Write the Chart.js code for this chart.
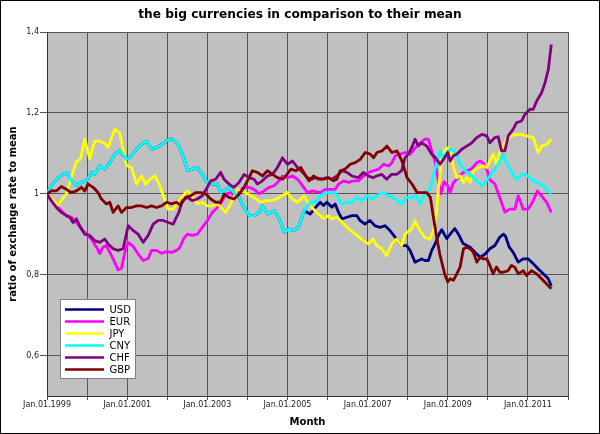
<!DOCTYPE html>
<html><head><meta charset="utf-8">
<script src="https://cdn.jsdelivr.net/npm/chart.js@4/dist/chart.umd.min.js"></script>
<style>html,body{margin:0;padding:0;background:#fff}#wrap{width:600px;height:434px}</style>
</head><body><div id="wrap"><canvas id="c" width="600" height="434"></canvas></div>
<script>
// x values are months since Jan.01.1999, y values are ratio of exchange rate to mean
const chartTitle = 'the big currencies in comparison to their mean';
const currencies = ['USD','EUR','JPY','CNY','CHF','GBP'];
const lineColors = ['#000080','#ff00ff','#ffff00','#00ffff','#800080','#800000'];
const yTickValues = [0.6, 0.8, 1.0, 1.2, 1.4];
const xLabelYears = [1999, 2001, 2003, 2005, 2007, 2009, 2011];

const CNY = [[0,1.0],[1.3,1.02],[3.3,1.04],[4.8,1.048],[6.1,1.053],[7.3,1.032],[8.8,1.02],[10.3,1.028],[11.8,1.032],[13.3,1.053],[14.3,1.048],[15.8,1.069],[17.3,1.061],[18.8,1.077],[20.3,1.098],[21.8,1.106],[23.8,1.085],[25.3,1.094],[26.8,1.11],[28.3,1.122],[29.8,1.13],[31.3,1.11],[32.8,1.114],[34.3,1.122],[35.8,1.131],[37.3,1.136],[38.8,1.126],[39.5,1.118],[41,1.089],[42,1.057],[43.5,1.061],[45,1.065],[46.5,1.048],[48,1.028],[49.5,1.024],[51,1.024],[52,1.003],[53,1.007],[54.5,1.016],[56,1.003],[57.5,0.991],[59,0.966],[60.5,0.946],[62,0.946],[63.5,0.954],[64.5,0.97],[66,0.95],[68,0.958],[69.5,0.938],[71,0.905],[72.5,0.913],[74,0.909],[75.5,0.921],[77,0.958],[78.8,0.979],[80.3,0.979],[81.8,0.995],[83.3,1.003],[84.8,1.003],[86.3,1.003],[87.3,0.987],[88.3,0.975],[89.8,0.979],[91.3,0.979],[92.8,0.991],[94.3,0.983],[95.7,0.995],[97.2,0.987],[98.7,0.995],[100.7,1.003],[102.2,0.995],[103.7,0.991],[106.2,0.975],[107.7,0.991],[109.2,0.991],[110.7,0.995],[111.7,0.975],[113.2,1.003],[114.7,1.011],[116.1,1.057],[117.6,1.106],[118.5,1.09],[119.7,1.102],[120.7,1.11],[121.7,1.106],[122.7,1.1],[123.7,1.073],[125.2,1.057],[127.2,1.044],[128.7,1.032],[130.2,1.02],[131.2,1.028],[132.6,1.044],[134.1,1.06],[135.6,1.081],[136.6,1.098],[137.6,1.077],[139.1,1.053],[140.6,1.036],[142.1,1.048],[143.6,1.046],[145.1,1.036],[146.6,1.028],[148.1,1.024],[149.6,1.011],[151,1.0]];

const USD = [[0,1.0],[1.3,1.02],[3.3,1.04],[4.8,1.048],[6.1,1.053],[7.3,1.032],[8.8,1.02],[10.3,1.028],[11.8,1.032],[13.3,1.053],[14.3,1.048],[15.8,1.069],[17.3,1.061],[18.8,1.077],[20.3,1.098],[21.8,1.106],[23.8,1.085],[25.3,1.094],[26.8,1.11],[28.3,1.122],[29.8,1.13],[31.3,1.11],[32.8,1.114],[34.3,1.122],[35.8,1.131],[37.3,1.136],[38.8,1.126],[39.5,1.118],[41,1.089],[42,1.057],[43.5,1.061],[45,1.065],[46.5,1.048],[48,1.028],[49.5,1.024],[51,1.024],[52,1.003],[53,1.007],[54.5,1.016],[56,1.003],[57.5,0.991],[59,0.966],[60.5,0.946],[62,0.946],[63.5,0.954],[64.5,0.97],[66,0.95],[68,0.958],[69.5,0.938],[71,0.905],[72.5,0.913],[74,0.909],[75.5,0.921],[77,0.958],[78.8,0.95],[80.3,0.965],[81.8,0.979],[82.8,0.971],[83.8,0.979],[85.3,0.967],[86.3,0.975],[87.3,0.954],[88.3,0.938],[89.8,0.942],[91.3,0.946],[92.8,0.946],[93.7,0.934],[95.2,0.925],[96.7,0.934],[98.2,0.921],[99.7,0.917],[101.2,0.921],[102.7,0.909],[104.7,0.888],[106.2,0.872],[107.7,0.872],[108.7,0.86],[110.2,0.831],[111.2,0.835],[112.2,0.839],[113.2,0.835],[114.2,0.835],[115.2,0.86],[116.2,0.876],[117.2,0.897],[118.2,0.911],[119.7,0.889],[120.7,0.9],[122.1,0.914],[123.2,0.9],[124.6,0.877],[126.7,0.868],[128.2,0.855],[129.7,0.843],[131.2,0.851],[132.6,0.864],[134.1,0.872],[135.6,0.893],[136.7,0.9],[137.3,0.895],[138.4,0.868],[139.6,0.855],[141.1,0.831],[142.6,0.839],[144.1,0.839],[145.6,0.827],[147.1,0.814],[148.6,0.802],[150.1,0.79],[151,0.772]];

const EUR = [[0,1.0],[1.3,0.983],[2.8,0.97],[4.3,0.958],[5.8,0.946],[7.3,0.942],[8.8,0.929],[10.3,0.913],[11.8,0.9],[13.3,0.888],[14.8,0.868],[15.8,0.852],[16.8,0.868],[17.8,0.872],[18.8,0.855],[19.8,0.839],[21.3,0.812],[22.3,0.816],[23.3,0.855],[24.3,0.88],[25.8,0.87],[27.3,0.851],[28.8,0.835],[30.3,0.84],[31.3,0.86],[32.8,0.86],[34.3,0.853],[35.8,0.857],[37.3,0.855],[38.8,0.86],[39.8,0.868],[41,0.89],[42,0.9],[43.5,0.897],[45,0.9],[46.5,0.917],[48,0.933],[49.5,0.954],[51,0.966],[52.5,0.983],[53.5,0.999],[55,1.003],[56,0.995],[57.5,1.007],[59,1.016],[60.5,1.016],[62,1.011],[63.5,1.0],[65,1.007],[66.5,1.016],[68,1.02],[69.5,1.032],[70.5,1.044],[72,1.04],[73.5,1.044],[75,1.036],[76.5,1.02],[78,1.003],[79.5,1.007],[81.8,1.003],[83.3,1.011],[84.8,1.011],[86.3,1.011],[87.3,1.024],[88.8,1.032],[90.3,1.028],[91.8,1.032],[93.3,1.032],[94.8,1.044],[96.3,1.053],[97.8,1.057],[99.3,1.061],[100.8,1.073],[102.3,1.069],[103.3,1.077],[104.3,1.094],[105.8,1.098],[107.3,1.102],[108.8,1.098],[110.3,1.114],[111.8,1.126],[113.2,1.135],[114.2,1.135],[115.2,1.106],[116.2,1.08],[117.2,1.03],[118,1.0],[118.9,1.03],[120,1.02],[120.7,1.003],[121.7,1.028],[122.7,1.036],[124.2,1.05],[125.7,1.057],[127.2,1.062],[128.7,1.077],[129.7,1.081],[130.7,1.075],[131.7,1.06],[132.6,1.035],[134.1,1.024],[135.6,0.99],[137.1,0.955],[138.6,0.962],[140.1,0.962],[141.1,0.995],[142.6,0.962],[144.1,0.962],[145.6,0.983],[146.8,1.007],[148.1,0.995],[149.6,0.979],[151,0.954]];

const JPY = [[0,1.0],[3.3,0.972],[5.8,1.0],[7.3,1.04],[8.8,1.08],[10,1.085],[11.3,1.135],[12.8,1.087],[14.3,1.13],[15.8,1.13],[17.3,1.125],[18.3,1.115],[20.3,1.16],[21.8,1.15],[23.8,1.07],[25.3,1.065],[26.8,1.024],[28.3,1.044],[29.5,1.024],[30.8,1.036],[32.3,1.044],[33.8,1.02],[34.8,0.995],[36.3,0.962],[37.8,0.962],[39.5,0.983],[42,1.007],[43.5,0.995],[45,0.975],[46.5,0.979],[48,0.97],[49.5,0.97],[51,0.975],[53.5,0.954],[55,0.975],[57,1.011],[58.5,1.007],[60,1.0],[62,0.991],[64,0.979],[65.5,0.983],[67.5,0.983],[69.5,0.991],[72,1.003],[73.5,0.987],[75,0.979],[77,0.995],[78.8,0.97],[81.3,0.95],[82.8,0.938],[84.3,0.946],[85.3,0.938],[86.8,0.942],[88.3,0.93],[90.3,0.913],[92.3,0.9],[94.7,0.884],[96.2,0.876],[97.7,0.888],[98.7,0.872],[100.2,0.864],[101.7,0.847],[103.2,0.876],[104.7,0.888],[106.2,0.872],[107.2,0.9],[109.2,0.913],[110.2,0.933],[111.7,0.909],[113.2,0.892],[114.7,0.888],[115.7,0.909],[116.6,0.95],[117.3,1.02],[118.2,1.085],[119.2,1.11],[120.2,1.114],[121,1.106],[121.7,1.065],[122.7,1.04],[123.7,1.044],[124.7,1.028],[125.7,1.04],[126.7,1.028],[127.7,1.057],[129.2,1.065],[130.7,1.069],[131.7,1.065],[132.6,1.081],[133.6,1.098],[134.6,1.073],[135.6,1.106],[136.6,1.118],[137.6,1.135],[139.6,1.145],[141.6,1.147],[143.6,1.143],[145.6,1.139],[147.1,1.102],[148.1,1.118],[149.6,1.122],[151,1.135]];

const CHF = [[0,1.0],[1.3,0.983],[2.8,0.966],[4.3,0.954],[5.8,0.946],[6.8,0.942],[7.8,0.929],[8.8,0.938],[9.8,0.921],[11.3,0.9],[12.8,0.897],[14.3,0.884],[15.8,0.88],[17.3,0.888],[18.3,0.876],[19.8,0.864],[21.3,0.86],[22.8,0.864],[24.3,0.921],[25.8,0.909],[27.3,0.9],[28.8,0.88],[30.3,0.897],[31.8,0.925],[33.3,0.934],[34.8,0.934],[36.3,0.929],[37.8,0.925],[38.5,0.938],[39.5,0.954],[40.5,0.983],[42,0.991],[43.5,0.983],[45,0.987],[46.5,0.995],[48,1.016],[49,1.032],[50.5,1.036],[52,1.053],[53,1.036],[54.5,1.024],[56,1.016],[57.5,1.028],[59,1.048],[60.5,1.04],[62,1.036],[63,1.024],[64.5,1.032],[66,1.044],[67.5,1.048],[69,1.065],[70.5,1.089],[72,1.073],[73.5,1.081],[75,1.065],[76.5,1.053],[78,1.04],[79.3,1.036],[80.3,1.04],[82.3,1.036],[83.8,1.04],[85.3,1.036],[86.8,1.044],[88.3,1.057],[89.8,1.053],[91.3,1.044],[93.2,1.04],[94.7,1.053],[96.2,1.044],[97.7,1.04],[98.7,1.044],[100.2,1.048],[101.7,1.036],[103.2,1.048],[104.7,1.048],[106.2,1.057],[107.2,1.089],[108.2,1.098],[109.2,1.114],[110.2,1.135],[111.2,1.118],[112.2,1.126],[113.7,1.118],[115.2,1.098],[116.2,1.09],[117.7,1.073],[118.7,1.085],[120,1.102],[120.7,1.081],[121.7,1.094],[122.7,1.098],[124.2,1.11],[125.7,1.118],[127.2,1.126],[128.7,1.139],[130.2,1.147],[131.7,1.143],[132.6,1.126],[134.1,1.139],[135.1,1.141],[136.1,1.106],[137.1,1.106],[138.1,1.143],[139.6,1.16],[140.6,1.176],[142.1,1.18],[143.1,1.196],[144.6,1.209],[145.6,1.209],[146.6,1.229],[148.1,1.25],[149.1,1.274],[150.1,1.307],[151,1.369]];

const GBP = [[0,1.0],[1.3,1.007],[2.8,1.007],[4.3,1.018],[5.8,1.011],[7.3,1.003],[8.8,1.007],[10.3,1.016],[11.3,1.007],[12.3,1.024],[13.8,1.016],[15.3,1.003],[16.3,0.987],[17.8,0.975],[18.8,0.979],[19.8,0.954],[21.3,0.97],[22.3,0.954],[23.8,0.966],[25.3,0.966],[26.8,0.97],[28.3,0.97],[29.8,0.966],[31.3,0.97],[32.8,0.966],[34.3,0.97],[35.8,0.979],[37.3,0.975],[38.8,0.979],[40,0.972],[41.5,0.991],[43,0.995],[44.5,1.003],[46,1.003],[47.5,1.0],[49,0.987],[50.5,0.979],[52,0.979],[53,0.999],[54.5,0.991],[56,0.987],[57.5,0.999],[59,1.016],[60.5,1.04],[61.5,1.057],[63,1.053],[64.5,1.044],[66,1.057],[67.5,1.048],[69,1.04],[70.5,1.036],[71.5,1.044],[73,1.061],[74.5,1.057],[76,1.065],[77.5,1.044],[78.5,1.032],[79.8,1.044],[81.3,1.036],[82.8,1.036],[84.3,1.04],[85.8,1.032],[86.8,1.036],[87.8,1.057],[89.3,1.061],[90.8,1.073],[92.3,1.077],[93.8,1.085],[95.3,1.102],[96.8,1.098],[97.8,1.089],[98.8,1.102],[100.3,1.106],[101.8,1.118],[103.3,1.102],[104.8,1.106],[106.3,1.081],[107.8,1.04],[109.3,1.024],[110.8,1.003],[112.2,1.003],[113.7,1.003],[114.8,0.991],[115.7,0.942],[116.7,0.892],[117.6,0.851],[118.2,0.831],[119.2,0.798],[120,0.782],[120.7,0.79],[121.7,0.786],[122.7,0.802],[123.7,0.819],[124.7,0.864],[125.7,0.868],[126.7,0.864],[127.7,0.855],[128.7,0.831],[129.7,0.843],[130.7,0.839],[131.7,0.839],[132.6,0.823],[133.6,0.802],[134.6,0.819],[135.6,0.806],[136.6,0.806],[138.1,0.81],[139.1,0.823],[140.1,0.818],[141.1,0.802],[142.6,0.81],[143.6,0.798],[145.1,0.81],[146.6,0.802],[148.1,0.79],[149.6,0.777],[151,0.765]];

const seriesData = [USD, EUR, JPY, CNY, CHF, GBP];

const datasets = currencies.map((name, i) => ({
  label: name,
  data: seriesData[i].map(p => ({x: p[0], y: p[1]})),
  borderColor: lineColors[i],
  backgroundColor: lineColors[i],
  borderWidth: 2.8,
  pointRadius: 0,
  tension: 0,
  fill: false,
  borderJoinStyle: 'round',
  order: currencies.length - i
}));

const framePlugin = {
  id: 'frame',
  beforeDraw(chart) {
    const {ctx, chartArea: a} = chart;
    ctx.save();
    ctx.fillStyle = '#ffffff';
    ctx.fillRect(0, 0, chart.width, chart.height);
    ctx.fillStyle = '#c0c0c0';
    ctx.fillRect(a.left, a.top, a.right - a.left, a.bottom - a.top);
    ctx.restore();
  },
  afterDatasetsDraw(chart) {
    const {ctx} = chart;
    ctx.save();
    // legend box
    ctx.fillStyle = '#ffffff';
    ctx.fillRect(60.5, 299.5, 75, 79);
    ctx.strokeStyle = '#808080';
    ctx.lineWidth = 1;
    ctx.strokeRect(60.5, 299.5, 75, 79);
    ctx.font = '10px "DejaVu Sans"';
    ctx.textBaseline = 'middle';
    ctx.textAlign = 'left';
    chart.data.datasets.forEach((ds, i) => {
      const y = 309.5 + i * 12;
      ctx.strokeStyle = ds.borderColor;
      ctx.lineWidth = 2.6;
      ctx.beginPath();
      ctx.moveTo(65, y);
      ctx.lineTo(104, y);
      ctx.stroke();
      ctx.fillStyle = '#000000';
      ctx.fillText(ds.label, 109.5, y + 0.5);
    });
    ctx.restore();
  },
  afterDraw(chart) {
    const {ctx} = chart;
    ctx.save();
    ctx.fillStyle = '#000000';
    ctx.font = 'bold 12.2px "DejaVu Sans"';
    ctx.textAlign = 'center';
    ctx.textBaseline = 'alphabetic';
    ctx.fillText(chartTitle, 300, 17.5);
    ctx.strokeStyle = '#000000';
    ctx.lineWidth = 1;
    ctx.strokeRect(0.5, 0.5, chart.width - 1, chart.height - 1);
    ctx.restore();
  }
};

new Chart(document.getElementById('c'), {
  type: 'line',
  data: { datasets },
  plugins: [framePlugin],
  options: {
    responsive: false,
    animation: false,
    devicePixelRatio: 1,
    layout: { padding: { left: 0, right: 32, top: 32, bottom: 0 } },
    plugins: {
      legend: { display: false },
      tooltip: { enabled: false },
      title: { display: false }
    },
    scales: {
      x: {
        type: 'linear',
        min: 0,
        max: 156,
        afterFit(scale) { scale.height = 38; },
        ticks: {
          stepSize: 12,
          autoSkip: false,
          maxRotation: 0,
          padding: 0,
          color: '#222',
          font: { family: 'DejaVu Sans', size: 8 },
          callback(v) {
            const yr = 1999 + v / 12;
            return xLabelYears.includes(yr) ? 'Jan.01.' + yr : '';
          }
        },
        grid: { color: '#555', lineWidth: 1, tickLength: 4, drawTicks: true },
        border: { color: '#333', width: 1 },
        title: {
          display: true,
          text: 'Month',
          color: '#000',
          font: { family: 'DejaVu Sans', size: 10, weight: 'bold' },
          padding: { top: 0, bottom: 6 }
        }
      },
      y: {
        type: 'linear',
        min: 0.5,
        max: 1.4,
        afterFit(scale) { scale.width = 47; },
        afterBuildTicks(scale) { scale.ticks = yTickValues.map(v => ({ value: v })); },
        ticks: {
          padding: 1,
          color: '#222',
          font: { family: 'DejaVu Sans', size: 8 },
          callback(v) { return String(Math.round(v * 10) / 10).replace('.', ','); }
        },
        grid: { color: '#555', lineWidth: 1, tickLength: 7, drawTicks: true },
        border: { color: '#333', width: 1 },
        title: {
          display: true,
          text: 'ratio of exchange rate to mean',
          color: '#000',
          font: { family: 'DejaVu Sans', size: 10, weight: 'bold' },
          padding: { top: 7, bottom: 0 }
        }
      }
    }
  }
});
</script>
</body></html>
